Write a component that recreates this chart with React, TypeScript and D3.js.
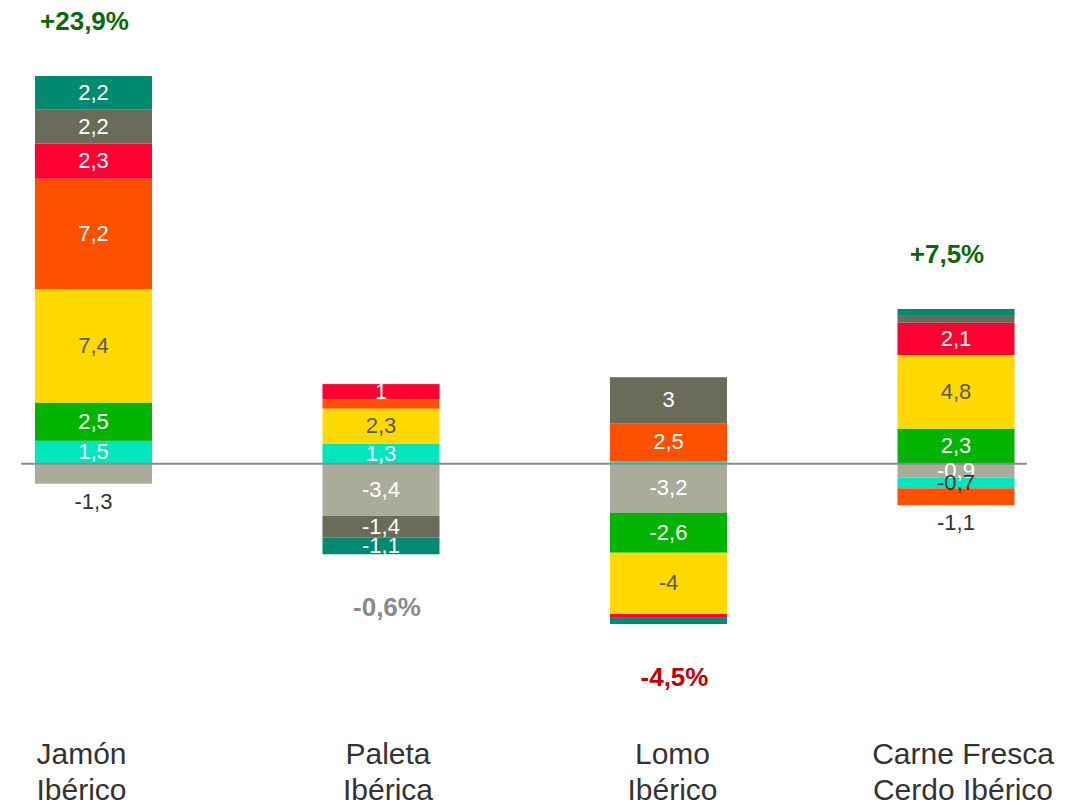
import * as d3 from "d3";
import React from "react";

// categories, shown on two lines below the bars
const categories = ["Jamón Ibérico", "Paleta Ibérica", "Lomo Ibérico", "Carne Fresca Cerdo Ibérico"];
const categoryLines = [
  ["Jamón", "Ibérico"],
  ["Paleta", "Ibérica"],
  ["Lomo", "Ibérico"],
  ["Carne Fresca", "Cerdo Ibérico"],
];

// stacking order (bottom to top for positives, top to bottom for negatives)
const seriesKeys = ["gris", "turquesa", "verde", "amarillo", "naranja", "rojo", "oliva", "teal"];

const gris = [-1.3, -3.4, -3.2, -0.9];
const turquesa = [1.5, 1.3, 0.15, -0.7];
const verde = [2.5, 0, -2.6, 2.3];
const amarillo = [7.4, 2.3, -4, 4.8];
const naranja = [7.2, 0.6, 2.5, -1.1];
const rojo = [2.3, 1, -0.2, 2.1];
const oliva = [2.2, -1.4, 3, 0.45];
const teal = [2.2, -1.1, -0.45, 0.45];

const totals = [23.9, -0.6, -4.5, 7.5];
const totalLabels = ["+23,9%", "-0,6%", "-4,5%", "+7,5%"];

const seriesValues: Record<string, number[]> = { gris, turquesa, verde, amarillo, naranja, rojo, oliva, teal };

const colors: Record<string, string> = {
  gris: "#ABAB9C",
  turquesa: "#00E6BE",
  verde: "#00B400",
  amarillo: "#FFD900",
  naranja: "#FF5000",
  rojo: "#FF0030",
  oliva: "#6B6B5A",
  teal: "#008A70",
};

// labels drawn under the bar instead of inside the segment
const outsideLabels = ["gris-0", "naranja-3"];
const darkLabels = ["turquesa-3"];

const W = 1083;
const H = 805;
const catLabelDx = [-12, 7, 4, 7];

function fmt(v: number) {
  return Number.isInteger(v) ? String(v) : v.toFixed(1).replace(".", ",");
}

export default function App() {
  const rows = categories.map((c, i) => {
    const r: any = { cat: c };
    seriesKeys.forEach((k) => (r[k] = seriesValues[k][i]));
    return r;
  });

  const stacked = d3.stack<any>().keys(seriesKeys).offset(d3.stackOffsetDiverging)(rows);

  const yMin = d3.min(stacked, (s) => d3.min(s, (d) => d[0])) as number;
  const yMax = d3.max(stacked, (s) => d3.max(s, (d) => d[1])) as number;

  const y = d3.scaleLinear().domain([yMin, yMax]).range([624, 76]);
  const x = d3
    .scaleBand()
    .domain(categories)
    .range([-50.25, 1099.75])
    .paddingInner(0.593)
    .paddingOuter(0.2965);

  const bw = x.bandwidth();

  // extents of each bar
  const tops = categories.map((_, i) => d3.min(stacked, (s) => y(s[i][1])) as number);
  const bottoms = categories.map((_, i) => d3.max(stacked, (s) => y(s[i][0])) as number);

  return (
    <svg
      width={W}
      height={H}
      style={{ position: "absolute", left: 0, top: 0, fontFamily: "'Liberation Sans', Arial, sans-serif" }}
    >
      <rect width={W} height={H} fill="#fff" />
      {stacked.map((s) =>
        s.map((d, i) => {
          const y0 = y(Math.max(d[0], d[1]));
          const y1 = y(Math.min(d[0], d[1]));
          if (y1 - y0 <= 0) return null;
          return (
            <rect
              key={s.key + i}
              x={x(categories[i])}
              y={y0}
              width={bw}
              height={y1 - y0}
              fill={colors[s.key]}
            />
          );
        })
      )}
      <line x1={21} x2={1027} y1={y(0)} y2={y(0)} stroke="#8C8C8C" strokeWidth={2} />
      {stacked.map((s) =>
        s.map((d, i) => {
          const v = seriesValues[s.key][i];
          if (Math.abs(v) < 0.65) return null;
          const id = s.key + "-" + i;
          const cx = (x(categories[i]) as number) + bw / 2;
          const outside = outsideLabels.includes(id);
          const cy = outside ? bottoms[i] + 17 : (y(d[0]) + y(d[1])) / 2 - 1;
          const fill =
            outside || darkLabels.includes(id) ? "#333" : s.key === "amarillo" ? "#5A5A5A" : "#fff";
          return (
            <text
              key={"l" + id}
              x={cx}
              y={cy}
              dy="0.36em"
              textAnchor="middle"
              fontSize={22}
              fill={fill}
            >
              {fmt(v)}
            </text>
          );
        })
      )}
      {totals.map((t, i) => {
        const cx = (x(categories[i]) as number) + bw / 2;
        const pos = t >= 0;
        const color = t > 0 ? "#0A6A0A" : t > -1 ? "#8A8A8A" : "#C00000";
        return (
          <text
            key={"t" + i}
            x={cx + (pos ? -9 : 6)}
            y={pos ? tops[i] - 46 : bottoms[i] + 62}
            textAnchor="middle"
            fontSize={26}
            fontWeight="bold"
            fill={color}
          >
            {totalLabels[i]}
          </text>
        );
      })}
      {categoryLines.map((lines, i) => {
        const cx = (x(categories[i]) as number) + bw / 2 + catLabelDx[i];
        return (
          <text key={"c" + i} x={cx} textAnchor="middle" fontSize={30} fill="#333">
            {lines.map((ln, j) => (
              <tspan key={j} x={cx} y={764 + j * 36}>
                {ln}
              </tspan>
            ))}
          </text>
        );
      })}
    </svg>
  );
}
